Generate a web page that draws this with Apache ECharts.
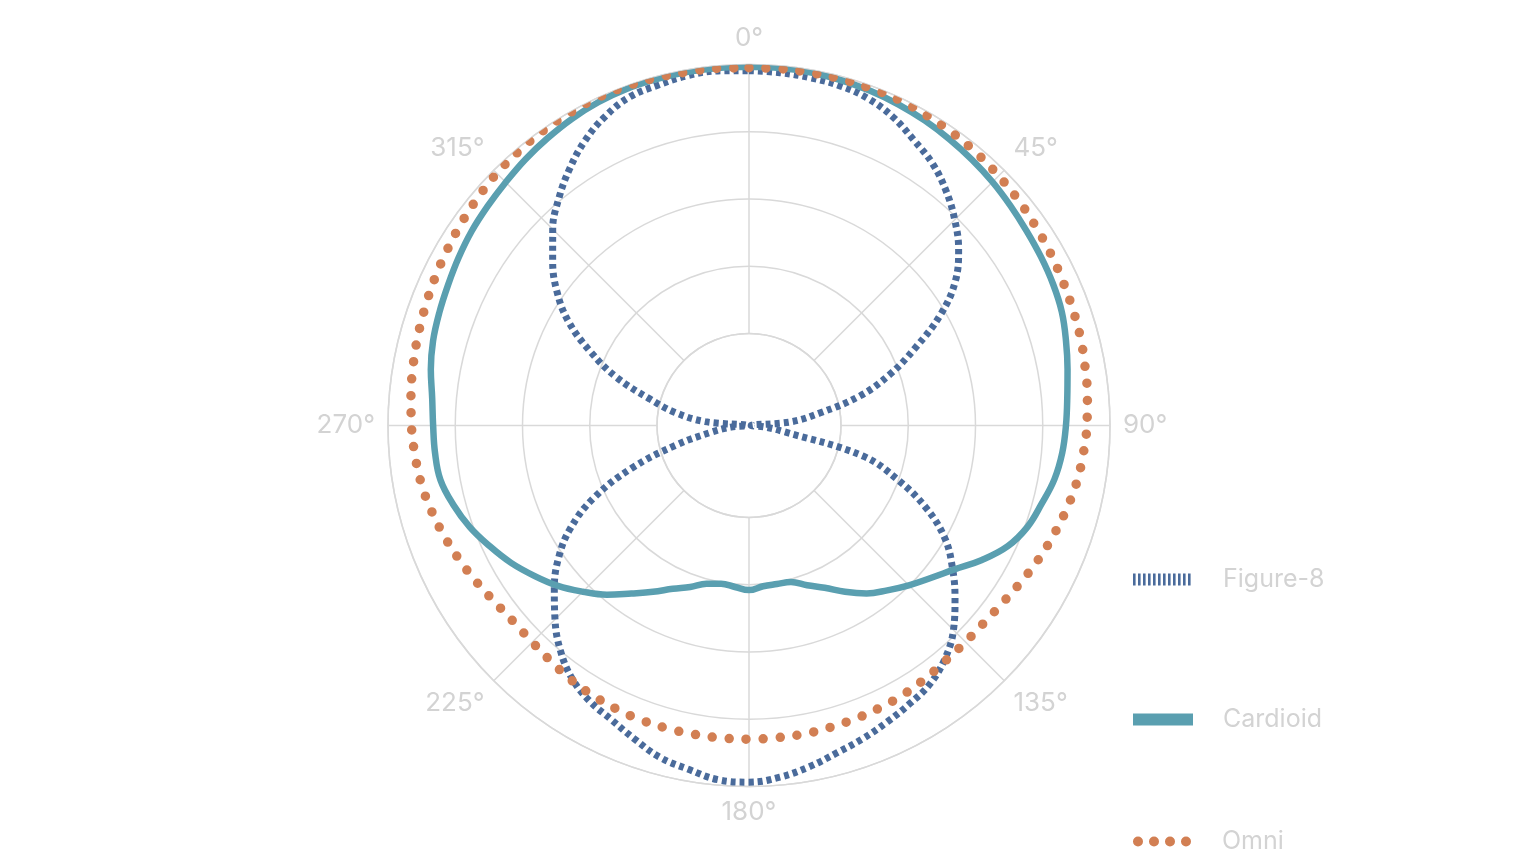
<!DOCTYPE html>
<html>
<head>
<meta charset="utf-8">
<script src="https://cdn.jsdelivr.net/npm/echarts@6/dist/echarts.min.js"></script>
<style>
html, body { margin: 0; padding: 0; background: #fff; }
#mic_pattern { width: 1536px; height: 864px; }
</style>
</head>
<body>
<div id="mic_pattern"></div>
<script>
// angles in degrees, clockwise from the top, every 5 degrees
var angles = [];
for (var a = 0; a < 360; a += 5) { angles.push(a); }

// radius in % of the outer ring, one value per angle
var figure8 = [
	98.3, 98.1, 97.8, 97.4, 96.4, 94.3, 91.3, 88.6, 84.9, 80.6, 75.8, 69.8, 61.2, 50.8, 41.6, 31.9, 19.9, 11.6,
	0.6, 4.2, 9.7, 32.7, 43.8, 54.2, 62.7, 68.8, 74.5, 80.1, 84.4, 87.4, 89.0, 90.6, 92.3, 93.9, 96.0, 97.8,
	98.8, 98.5, 96.7, 95.2, 92.5, 90.0, 88.2, 85.5, 81.3, 76.0, 70.4, 64.5, 57.2, 47.4, 34.6, 20.8, 10.5, 5.0,
	0.6, 12.2, 20.8, 28.5, 39.1, 48.5, 57.8, 65.0, 71.0, 76.9, 82.0, 86.7, 91.0, 94.4, 96.8, 97.6, 98.4, 98.6
];
var cardioid = [
	99.4, 99.4, 99.3, 99.0, 98.6, 98.1, 97.5, 96.8, 96.1, 95.4, 94.6, 93.9, 93.4, 92.9, 92.2, 90.9, 89.6, 88.5,
	87.8, 87.1, 85.9, 83.9, 82.1, 79.1, 74.5, 69.5, 65.7, 62.6, 59.6, 56.8, 53.2, 49.6, 47.1, 44.9, 44.6, 44.7,
	45.6, 44.9, 44.5, 45.4, 47.6, 49.9, 53.2, 56.8, 61.2, 65.1, 69.1, 72.6, 76.1, 79.2, 82.3, 84.8, 86.8, 87.3,
	87.5, 88.1, 89.5, 90.6, 91.3, 92.0, 92.9, 93.8, 94.5, 95.3, 96.3, 97.2, 98.1, 98.8, 99.2, 99.3, 99.4, 99.4
];
var omni = [
	99.1, 99.2, 99.2, 99.3, 99.3, 99.3, 99.0, 98.7, 98.3, 97.8, 97.3, 96.7, 96.2, 95.7, 95.3, 95.0, 94.5, 94.1,
	93.6, 92.9, 92.1, 90.9, 89.6, 88.3, 86.9, 85.7, 85.0, 84.8, 84.9, 85.4, 85.9, 86.2, 86.4, 86.6, 86.8, 86.8,
	86.9, 86.9, 86.9, 86.9, 86.9, 86.7, 86.4, 86.0, 85.3, 84.9, 84.9, 85.7, 87.0, 88.4, 89.8, 91.1, 92.2, 92.9,
	93.5, 94.0, 94.5, 95.0, 95.5, 96.1, 96.7, 97.4, 98.1, 98.8, 99.2, 99.6, 99.8, 100.0, 99.9, 99.7, 99.4, 99.3
];

var seriesNames = ['Figure-8', 'Cardioid', 'Omni'];
var seriesColors = ['#4a6b9b', '#5a9fb0', '#d27f53'];

var gridColor = '#d9d9d9';
var textColor = '#d3d3d3';
var fontName = 'Inter';

function toPolar(values) {
	var out = [];
	for (var i = 0; i < angles.length; i++) {
		out.push([values[i], angles[i]]);
	}
	out.push([values[0], 360]); // close the loop
	return out;
}

function legendFor(name, left, top, width, lineStyle) {
	return {
		data: [name],
		left: left, top: top,
		padding: 0,
		itemWidth: width, itemHeight: 12,
		itemStyle: { opacity: 0 },
		textStyle: { color: textColor, fontFamily: fontName, fontSize: 25, padding: [0, 0, 0, 25] },
		lineStyle: lineStyle
	};
}

var mic_myChart = echarts.init(document.getElementById('mic_pattern'));

var mic_option = {
	backgroundColor: '#ffffff',
	animation: false,
	polar: [
		{ center: [749, 425.5], radius: [92, 361] },   // grid rings and spokes
		{ center: [749, 425.5], radius: 361 }          // data
	],
	radiusAxis: [
		{
			polarIndex: 0,
			min: 0, max: 4, interval: 1,
			axisLine: { show: false },
			axisTick: { show: false },
			axisLabel: { show: false },
			splitLine: { show: true, lineStyle: { color: gridColor, width: 1.5 } }
		},
		{
			polarIndex: 1,
			min: 0, max: 100,
			show: false,
			splitLine: { show: false }
		}
	],
	angleAxis: [
		{
			polarIndex: 0,
			type: 'value',
			min: 0, max: 360, interval: 45,
			startAngle: 90,
			clockwise: true,
			axisLine: { show: true, lineStyle: { color: gridColor, width: 1.5 } },
			axisTick: { show: false },
			axisLabel: {
				margin: 13,
				color: textColor,
				fontFamily: fontName,
				fontSize: 26,
				formatter: '{value}°'
			},
			splitLine: { show: true, lineStyle: { color: gridColor, width: 1.5 } }
		},
		{
			polarIndex: 1,
			type: 'value',
			min: 0, max: 360,
			startAngle: 90,
			clockwise: true,
			show: false,
			splitLine: { show: false }
		}
	],
	legend: [
		legendFor('Figure-8', 1127, 567, 60, { width: 12, type: [2.6, 2.4], cap: 'butt' }),
		legendFor('Cardioid', 1127, 707, 60, { width: 12, type: 'solid', cap: 'butt' }),
		legendFor('Omni', 1133, 829, 54, { width: 10, type: [0, 16], cap: 'round' })
	],
	series: [
		{
			name: seriesNames[0],
			type: 'line',
			coordinateSystem: 'polar',
			polarIndex: 1,
			symbol: 'none',
			smooth: 0.4,
			color: seriesColors[0],
			lineStyle: { color: seriesColors[0], width: 7, type: [5, 4], cap: 'butt' },
			data: toPolar(figure8)
		},
		{
			name: seriesNames[1],
			type: 'line',
			coordinateSystem: 'polar',
			polarIndex: 1,
			symbol: 'none',
			smooth: 0.4,
			color: seriesColors[1],
			lineStyle: { color: seriesColors[1], width: 6.5 },
			data: toPolar(cardioid)
		},
		{
			name: seriesNames[2],
			type: 'line',
			coordinateSystem: 'polar',
			polarIndex: 1,
			symbol: 'none',
			smooth: 0.4,
			color: seriesColors[2],
			lineStyle: { color: seriesColors[2], width: 9.5, type: [0, 17], cap: 'round' },
			data: toPolar(omni)
		}
	]
};

mic_myChart.setOption(mic_option);
</script>
</body>
</html>
